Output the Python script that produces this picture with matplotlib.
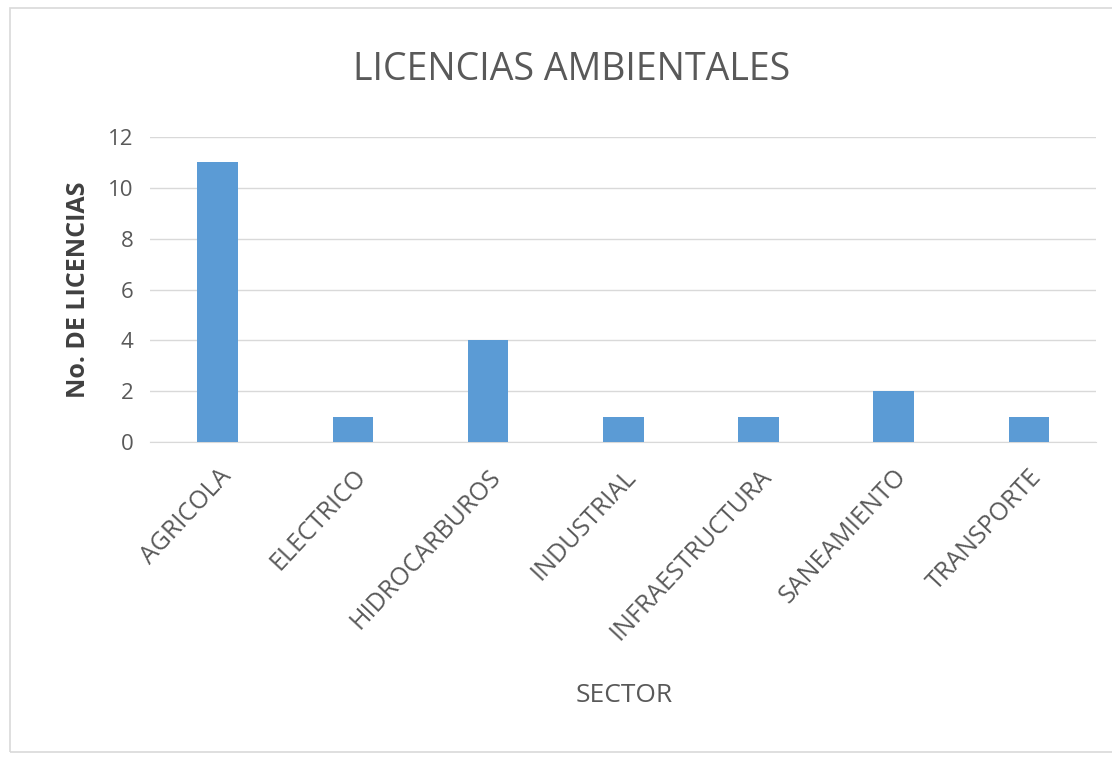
import matplotlib.pyplot as plt
from matplotlib.patches import Rectangle

sectors = ['AGRICOLA', 'ELECTRICO', 'HIDROCARBUROS', 'INDUSTRIAL',
           'INFRAESTRUCTURA', 'SANEAMIENTO', 'TRANSPORTE']
licencias = [11, 1, 4, 1, 1, 2, 1]
y_ticks = [0, 2, 4, 6, 8, 10, 12]

plt.rcParams['font.family'] = ['Open Sans', 'DejaVu Sans']


def main():
    fig = plt.figure(figsize=(11.12, 7.57), dpi=100)
    ax = fig.add_axes([0.135, 0.416, 0.851, 0.403])

    # chart frame like the excel chart area
    fig.patches.append(Rectangle((10 / 1112, 1 - 752 / 757), 1.2, 744 / 757,
                                 transform=fig.transFigure, fill=False,
                                 edgecolor='#d9d9d9', linewidth=1.2))

    x = list(range(len(sectors)))
    ax.bar(x, licencias, width=0.30, color='#5b9bd5', zorder=3)

    ax.set_xlim(-0.5, len(sectors) - 0.5)
    ax.set_ylim(0, 12)
    ax.set_yticks(y_ticks)
    ax.set_yticklabels([str(v) for v in y_ticks], fontsize=16, color='#595959')
    ax.set_xticks(x)
    ax.set_xticklabels(sectors, rotation=47, ha='right', rotation_mode='anchor',
                       fontsize=18, color='#595959')
    ax.tick_params(axis='y', length=0, pad=12)
    ax.tick_params(axis='x', length=0, pad=16)
    ax.grid(axis='y', color='#d9d9d9', linewidth=1, zorder=0)
    for side in ['top', 'right', 'left']:
        ax.spines[side].set_visible(False)
    ax.spines['bottom'].set_color('#d9d9d9')

    ax.set_ylabel('No. DE LICENCIAS', fontsize=18, fontweight='bold',
                  color='#404040', labelpad=12)
    fig.text(0.561, 1 - 695 / 757, 'SECTOR', fontsize=19, color='#595959',
             ha='center', va='center')
    fig.text(0.514, 1 - 70 / 757, 'LICENCIAS AMBIENTALES', fontsize=27,
             color='#595959', ha='center', va='center')

    fig.savefig('out.png', dpi=100)
    plt.close(fig)


if __name__ == "__main__":
    main()
